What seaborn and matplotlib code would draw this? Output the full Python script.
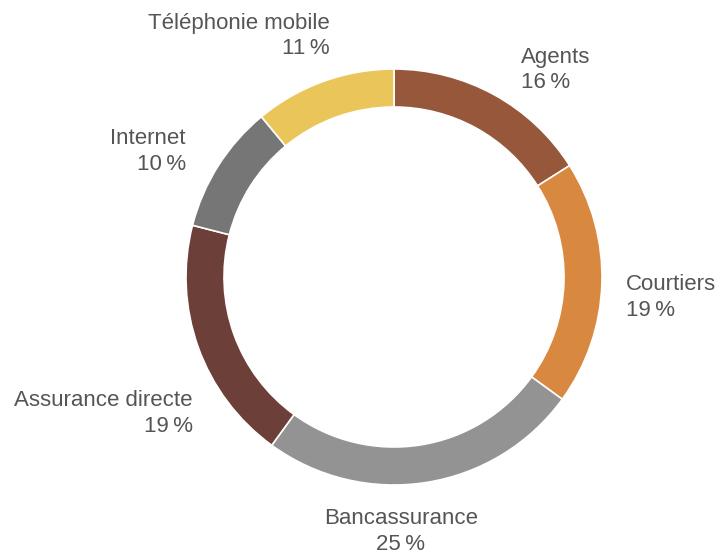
import matplotlib
matplotlib.use("Agg")
import matplotlib.pyplot as plt
import seaborn as sns

# Distribution channels and their shares (%)
channels = ["Agents", "Courtiers", "Bancassurance", "Assurance directe",
            "Internet", "Téléphonie mobile"]
shares = [16, 19, 25, 19, 10, 11]
colors = ["#97573a", "#d8883f", "#939393", "#6c3f38", "#767676", "#eac65a"]

sns.set_theme(style="white")
plt.rcParams["font.family"] = ["Liberation Sans", "DejaVu Sans"]

W, H = 721, 553
fig = plt.figure(figsize=(W / 100, H / 100), dpi=100)
ax = fig.add_axes([0, 0, 1, 1])

cx, cy, r = 394, H - 277, 208
ax.pie(shares, colors=colors, startangle=90, counterclock=False,
       center=(cx, cy), radius=r, frame=True,
       wedgeprops=dict(width=38, edgecolor="white", linewidth=1.2))
ax.set_xlim(0, W)
ax.set_ylim(0, H)
ax.set_aspect("equal")
ax.axis("off")

# label anchor: x, y of first line, horizontal alignment
label_pos = {
    "Agents": (521, 57, "left"),
    "Courtiers": (626, 285, "left"),
    "Bancassurance": (401, 519, "center"),
    "Assurance directe": (193, 401, "right"),
    "Internet": (186, 139, "right"),
    "Téléphonie mobile": (330, 24, "right"),
}
for name, val in zip(channels, shares):
    x, y, ha = label_pos[name]
    ax.text(x, H - y, name, ha=ha, va="center", fontsize=16, color="#555555")
    ax.text(x, H - y - 25, f"{val}\u2009%", ha=ha, va="center",
            fontsize=16, color="#555555")

fig.savefig("out.png", dpi=100)
